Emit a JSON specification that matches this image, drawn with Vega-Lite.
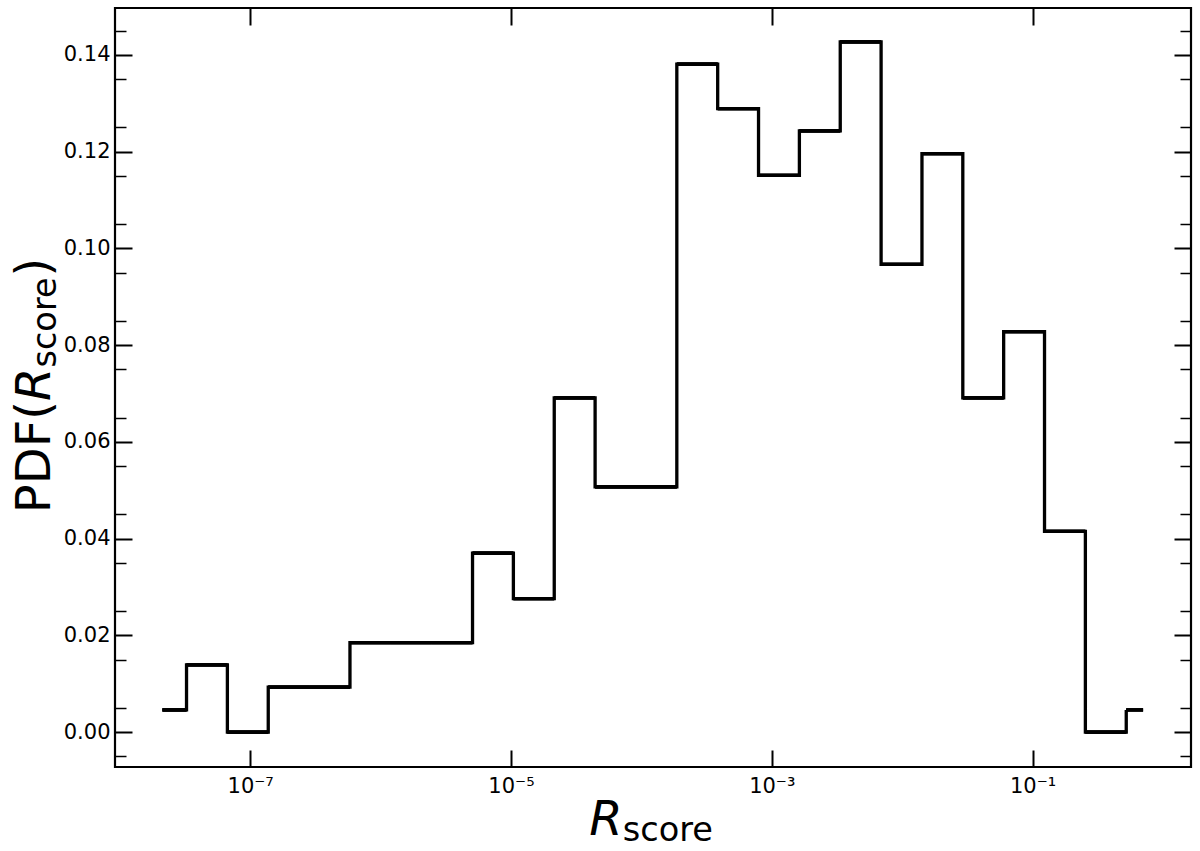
{
  "$schema": "https://vega.github.io/schema/vega-lite/v6.json",
  "width": 1076,
  "height": 759,
  "autosize": {"type": "none"},
  "padding": {"left": 115, "top": 8, "right": 9, "bottom": 84},
  "background": "white",
  "config": {
    "view": {"stroke": "black", "strokeWidth": 2.2},
    "axis": {
      "domain": false,
      "grid": false,
      "labelFont": "DejaVu Sans",
      "labelFontSize": 21,
      "labelColor": "black",
      "tickColor": "black",
      "titleFont": "DejaVu Sans",
      "titleColor": "black",
      "titleFontWeight": "normal"
    }
  },
  "data": {
    "values": [
      {"lo": 2.128e-8, "hi": 3.253e-8, "pdf": 0.0046},
      {"lo": 3.253e-8, "hi": 6.6925e-8, "pdf": 0.0139},
      {"lo": 6.6925e-8, "hi": 1.3769e-7, "pdf": 0},
      {"lo": 1.3769e-7, "hi": 2.8335e-7, "pdf": 0.0093},
      {"lo": 2.8335e-7, "hi": 5.8285e-7, "pdf": 0.0093},
      {"lo": 5.8285e-7, "hi": 1.19915e-6, "pdf": 0.0185},
      {"lo": 1.19915e-6, "hi": 2.467e-6, "pdf": 0.0185},
      {"lo": 2.467e-6, "hi": 5.075e-6, "pdf": 0.0185},
      {"lo": 5.075e-6, "hi": 1.044e-5, "pdf": 0.0370},
      {"lo": 1.044e-5, "hi": 2.148e-5, "pdf": 0.0276},
      {"lo": 2.148e-5, "hi": 4.4195e-5, "pdf": 0.0691},
      {"lo": 4.4195e-5, "hi": 9.092e-5, "pdf": 0.0507},
      {"lo": 9.092e-5, "hi": 1.87065e-4, "pdf": 0.0507},
      {"lo": 1.87065e-4, "hi": 3.8489e-4, "pdf": 0.1381},
      {"lo": 3.8489e-4, "hi": 7.917e-4, "pdf": 0.1289},
      {"lo": 7.917e-4, "hi": 1.6287e-3, "pdf": 0.1151},
      {"lo": 1.6287e-3, "hi": 3.351e-3, "pdf": 0.1243},
      {"lo": 3.351e-3, "hi": 6.894e-3, "pdf": 0.1427},
      {"lo": 6.894e-3, "hi": 1.4184e-2, "pdf": 0.0967},
      {"lo": 1.4184e-2, "hi": 2.9175e-2, "pdf": 0.1196},
      {"lo": 2.9175e-2, "hi": 6.0015e-2, "pdf": 0.0691},
      {"lo": 6.0015e-2, "hi": 0.123475, "pdf": 0.0828},
      {"lo": 0.123475, "hi": 0.25404, "pdf": 0.0415},
      {"lo": 0.25404, "hi": 0.52275, "pdf": 0},
      {"lo": 0.52275, "hi": 0.7036, "pdf": 0.0046}
    ]
  },
  "resolve": {"axis": {"x": "independent", "y": "independent"}},
  "layer": [
    {
      "mark": {"type": "rule", "color": "black", "strokeWidth": 3.3, "strokeCap": "butt"},
      "encoding": {
        "x": {
          "field": "lo", "type": "quantitative",
          "scale": {"type": "log", "domain": [9.2e-9, 1.64], "nice": false},
          "axis": {
            "orient": "bottom",
            "values": [1e-7, 1e-5, 1e-3, 1e-1],
            "tickSize": -17, "tickWidth": 2,
            "labelPadding": 25,
            "labelExpr": "'10' + (datum.value < 1e-6 ? '⁻⁷' : datum.value < 1e-4 ? '⁻⁵' : datum.value < 1e-2 ? '⁻³' : '⁻¹')",
            "title": "R",
            "titleFontStyle": "italic",
            "titleFontSize": 48,
            "titleAngle": 0,
            "titleAlign": "left",
            "titleBaseline": "alphabetic",
            "titleX": 473.7,
            "titleY": 67.7
          }
        },
        "x2": {"field": "hi"},
        "y": {
          "field": "pdf", "type": "quantitative",
          "scale": {"domain": [-0.0072, 0.1497], "nice": false, "zero": false},
          "axis": {
            "orient": "left",
            "values": [0, 0.02, 0.04, 0.06, 0.08, 0.1, 0.12, 0.14],
            "format": ".2f",
            "tickSize": -17, "tickWidth": 2,
            "labelPadding": 22,
            "title": "PDF(",
            "titleFontSize": 48,
            "titleAngle": 270,
            "titleAlign": "left",
            "titleBaseline": "alphabetic",
            "titleX": -65.3,
            "titleY": 504.7
          }
        }
      }
    },
    {
      "mark": {"type": "line", "color": "black", "strokeWidth": 3.3, "interpolate": "step-after", "strokeJoin": "miter"},
      "encoding": {
        "x": {
          "field": "lo", "type": "quantitative",
          "scale": {"type": "log", "domain": [9.2e-9, 1.64], "nice": false},
          "axis": {
            "orient": "top",
            "values": [1e-7, 1e-5, 1e-3, 1e-1],
            "tickSize": -17, "tickWidth": 2,
            "labels": false,
            "title": "score",
            "titleFontSize": 33.6,
            "titleAngle": 0,
            "titleAlign": "left",
            "titleBaseline": "alphabetic",
            "titleX": 507.2,
            "titleY": 832.7
          }
        },
        "y": {
          "field": "pdf", "type": "quantitative",
          "scale": {"domain": [-0.0072, 0.1497], "nice": false, "zero": false},
          "axis": {
            "orient": "right",
            "values": [0, 0.02, 0.04, 0.06, 0.08, 0.1, 0.12, 0.14],
            "tickSize": -17, "tickWidth": 2,
            "labels": false,
            "title": "R",
            "titleFontStyle": "italic",
            "titleFontSize": 48,
            "titleAngle": 270,
            "titleAlign": "left",
            "titleBaseline": "alphabetic",
            "titleX": -1141.3,
            "titleY": 392.5
          }
        }
      }
    },
    {
      "mark": {"type": "rule", "color": "black", "strokeWidth": 3.3, "strokeCap": "butt"},
      "encoding": {
        "x": {
          "field": "lo", "type": "quantitative",
          "scale": {"type": "log", "domain": [9.2e-9, 1.64], "nice": false},
          "axis": null
        },
        "x2": {"field": "hi"},
        "y": {
          "field": "pdf", "type": "quantitative",
          "scale": {"domain": [-0.0072, 0.1497], "nice": false, "zero": false},
          "axis": {
            "orient": "left",
            "values": [-0.005, 0.005, 0.015, 0.025, 0.035, 0.045, 0.055, 0.065, 0.075, 0.085, 0.095, 0.105, 0.115, 0.125, 0.135, 0.145],
            "tickSize": -11, "tickWidth": 1.5,
            "labels": false,
            "title": "score",
            "titleFontSize": 33.6,
            "titleAngle": 270,
            "titleAlign": "left",
            "titleBaseline": "alphabetic",
            "titleX": -59.8,
            "titleY": 359.1
          }
        }
      }
    },
    {
      "mark": {"type": "rule", "color": "black", "strokeWidth": 3.3, "strokeCap": "butt"},
      "encoding": {
        "x": {
          "field": "lo", "type": "quantitative",
          "scale": {"type": "log", "domain": [9.2e-9, 1.64], "nice": false},
          "axis": null
        },
        "x2": {"field": "hi"},
        "y": {
          "field": "pdf", "type": "quantitative",
          "scale": {"domain": [-0.0072, 0.1497], "nice": false, "zero": false},
          "axis": {
            "orient": "right",
            "values": [-0.005, 0.005, 0.015, 0.025, 0.035, 0.045, 0.055, 0.065, 0.075, 0.085, 0.095, 0.105, 0.115, 0.125, 0.135, 0.145],
            "tickSize": -11, "tickWidth": 1.5,
            "labels": false,
            "title": ")",
            "titleFontSize": 48,
            "titleAngle": 270,
            "titleAlign": "left",
            "titleBaseline": "alphabetic",
            "titleX": -1141.3,
            "titleY": 268.1
          }
        }
      }
    }
  ]
}
